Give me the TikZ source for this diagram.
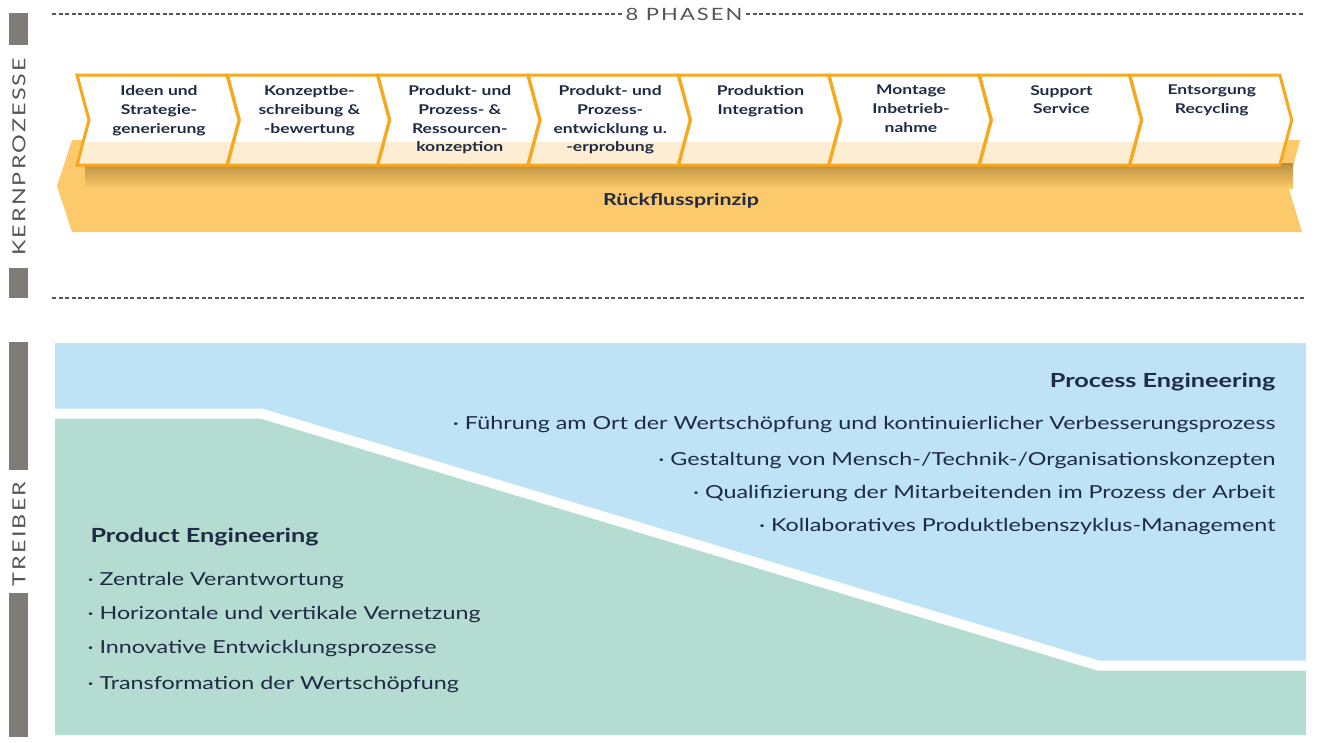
\documentclass[tikz,border=0pt]{standalone}
\usepackage{fontspec}
\setmainfont[FakeStretch=1.3]{Lato}
\newfontfamily\spaced[LetterSpace=12,FakeStretch=1.3]{Lato}
\usetikzlibrary{calc}
\definecolor{txt}{HTML}{1F2A44}
\definecolor{barg}{HTML}{7F7B77}
\definecolor{orb}{HTML}{F6A81E}
\definecolor{orf}{HTML}{FCC96B}
\definecolor{orl}{HTML}{FDEED3}
\definecolor{orsh}{HTML}{B88E3E}
\definecolor{bl}{HTML}{BEE3F7}
\definecolor{gr}{HTML}{B4DCD0}
\definecolor{lbl}{HTML}{555555}
\begin{document}
\begin{tikzpicture}[x=1bp,y=-1bp,
  bar/.style={fill=barg,draw=none},
  dashln/.style={draw=lbl,line width=1.2bp,dash pattern=on 4bp off 2.5bp},
  ph/.style={text=txt,align=center,font=\fontsize{13.5}{19}\selectfont\bfseries,anchor=north,inner sep=0pt},
  side/.style={text=lbl,font=\fontsize{18}{18}\selectfont\spaced,rotate=90},
  bul/.style={text=txt,font=\fontsize{18}{18}\selectfont},
  hd/.style={text=txt,font=\fontsize{19.5}{20}\selectfont\bfseries}]
\useasboundingbox (0,0) rectangle (1320,742);
% left bars
\fill[bar] (9,13) rectangle (28,45);
\fill[bar] (9,268) rectangle (28,298);
\fill[bar] (9,342) rectangle (28,470);
\fill[bar] (9,593) rectangle (28,737);
\node[side] (kern) at (19,157) {KERNPROZESSE};
\node[side] (treib) at (19,534) {TREIBER};
% dashed lines
\node[text=lbl,font=\fontsize{17}{17}\selectfont\spaced] (phasen) at (684,14) {8 PHASEN};
\coordinate (d1) at (52,14); \coordinate (d2) at (1305,14);
\draw[dashln] (d1) -- (phasen.west);
\draw[dashln] (phasen.east) -- (d2);
\coordinate (d3) at (52,298); \coordinate (d4) at (1305,298);
\draw[dashln] (d3) -- (d4);
% back arrow
\fill[orf] (72,140) -- (1300,140) -- (1288,186) -- (1302,232) -- (72,232) -- (57,186) -- cycle;
\shade[top color=orsh,bottom color=orf] (85,163) rectangle (1293,188);
\node[text=txt,font=\fontsize{16.5}{18}\selectfont\bfseries] (rf) at (681,201) {Rückflussprinzip};
% chevrons
\foreach \i/\t in {0/{Ideen und\\Strategie-\\generierung},1/{Konzeptbe-\\schreibung \&\\-bewertung},2/{Produkt- und\\Prozess- \&\\Ressourcen-\\konzeption},3/{Produkt- und\\Prozess-\\entwicklung u.\\-erprobung},4/{Produktion\\Integration},5/{Montage\\Inbetrieb-\\nahme},6/{Support\\Service},7/{Entsorgung\\Recycling}}{
  \pgfmathsetmacro{\xo}{77+150.4*\i}
  \fill[white] (\xo,75) -- ++(150,0) -- ++(12,45) -- ++(-12,45) -- ++(-150,0) -- ++(12,-45) -- cycle;
  \fill[orl] (\xo+6,142) -- ++(150,0) -- ++(-6,23) -- ++(-150,0) -- cycle;
  \draw[orb,line width=3bp,line join=miter] (\xo,75) -- ++(150,0) -- ++(12,45) -- ++(-12,45) -- ++(-150,0) -- ++(12,-45) -- cycle;
  \node[ph] (c\i) at (\xo+82,85) {\t};
}
% drivers
\fill[bl] (55,343) rectangle (1306,735);
\fill[gr] (55,419) -- (262,419) -- (1098,670) -- (1306,670) -- (1306,735) -- (55,735) -- cycle;
\draw[white,line width=10bp] (50,413.5) -- (261,413.5) -- (1098,665.5) -- (1311,665.5);
\node[hd,anchor=east] (pe) at (1279,382) {Process Engineering};
\node[bul,anchor=east] (p1) at (1279,425) {· Führung am Ort der Wertschöpfung und kontinuierlicher Verbesserungsprozess};
\node[bul,anchor=east] (p2) at (1279,461) {· Gestaltung von Mensch-/Technik-/Organisationskonzepten};
\node[bul,anchor=east] (p3) at (1279,494) {· Qualifizierung der Mitarbeitenden im Prozess der Arbeit};
\node[bul,anchor=east] (p4) at (1279,527) {· Kollaboratives Produktlebenszyklus-Management};
\node[hd,anchor=west] (pr) at (87,537) {Product Engineering};
\node[bul,anchor=west] (q1) at (84,581) {· Zentrale Verantwortung};
\node[bul,anchor=west] (q2) at (84,615) {· Horizontale und vertikale Vernetzung};
\node[bul,anchor=west] (q3) at (84,649) {· Innovative Entwicklungsprozesse};
\node[bul,anchor=west] (q4) at (84,685) {· Transformation der Wertschöpfung};
\end{tikzpicture}
\end{document}
